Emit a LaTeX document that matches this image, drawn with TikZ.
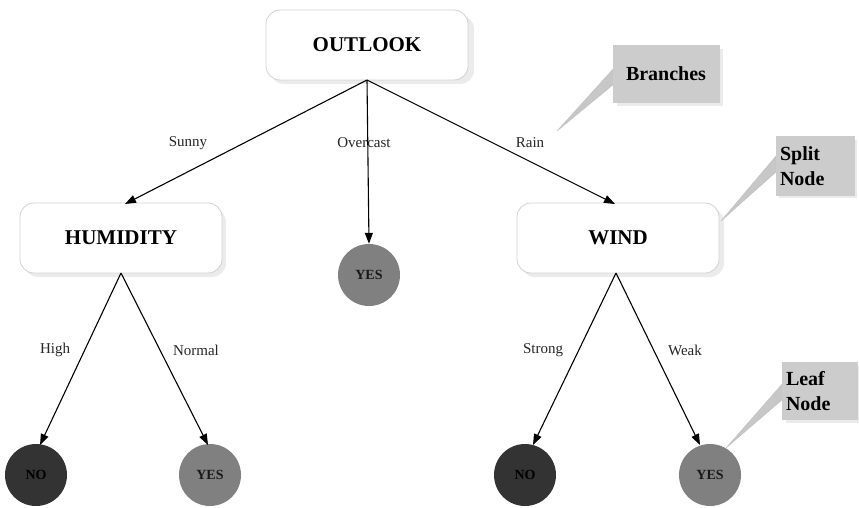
\documentclass[tikz,border=0pt]{standalone}
\usepackage{fontspec}
\setmainfont{Liberation Serif}
\usetikzlibrary{arrows.meta,calc}
\begin{document}
\begin{tikzpicture}[x=1pt,y=-1pt,
  attr/.style={draw=gray!35,line width=0.8pt,rounded corners=14pt,fill=white,minimum width=202pt,minimum height=70pt,font=\fontsize{21}{24}\selectfont\bfseries},
  leafyes/.style={circle,fill=black!50,minimum size=62pt,inner sep=0pt,font=\fontsize{14}{16}\selectfont\bfseries,text=black!90},
  leafno/.style={circle,fill=black!80,minimum size=62pt,inner sep=0pt,font=\fontsize{14}{16}\selectfont\bfseries,text=black},
  callout/.style={fill=black!20,inner sep=0pt,font=\fontsize{20}{25}\selectfont\bfseries,align=left},
  tail/.style={fill=black!22,draw=black!25,line width=0.4pt},
  edge/.style={-{Triangle[length=11pt,width=8pt]},line width=1.1pt,black},
  lbl/.style={font=\fontsize{15}{17}\selectfont,text=black!85}]
\useasboundingbox (0,0) rectangle (859,508);
% shadows
\fill[black!8,rounded corners=14pt] (270,15) rectangle (474,84);
\fill[black!8,rounded corners=14pt] (24,208) rectangle (226,277);
\fill[black!8,rounded corners=14pt] (521,208) rectangle (724,277);
\node[attr] (outlook) at (367,45) {OUTLOOK};
\node[attr] (hum) at (121,238) {HUMIDITY};
\node[attr] (wind) at (618,238) {WIND};
\node[leafyes] (yes1) at (369,275) {YES};
\node[leafno] (no1) at (36,475) {NO};
\node[leafyes] (yes2) at (210,475) {YES};
\node[leafno] (no2) at (525,475) {NO};
\node[leafyes] (yes3) at (710,475) {YES};
% edges
\coordinate (o) at (367,80);
\draw[edge] (o) -- (125,204);
\draw[edge] (o) -- (yes1.north);
\draw[edge] (o) -- (615,204);
\coordinate (h) at (121,273);
\draw[edge] (h) -- (40,445);
\draw[edge] (h) -- (208,445);
\coordinate (w) at (616,273);
\draw[edge] (w) -- (533,445);
\draw[edge] (w) -- (700,445);
% labels
\node[lbl] (l1) at (188,143) {Sunny};
\node[lbl] (l2) at (364,143) {Overcast};
\node[lbl] (l3) at (530,143) {Rain};
\node[lbl] (l4) at (55,350) {High};
\node[lbl] (l5) at (196,350) {Normal};
\node[lbl] (l6) at (543,350) {Strong};
\node[lbl] (l7) at (685,350) {Weak};
% callouts
\coordinate (t1) at (557,131);
\coordinate (t2) at (721,221);
\coordinate (t3) at (726,448);
\draw[tail] (t1) -- (614,68) -- (614,84) -- cycle;
\draw[tail] (t2) -- (776,156) -- (776,172) -- cycle;
\draw[tail] (t3) -- (783,383) -- (783,399) -- cycle;
\fill[black!8] (617,49) rectangle (723,106);
\fill[black!8] (779,140) rectangle (857,198);
\fill[black!8] (786,366) rectangle (859,423);
\node[callout,minimum width=107pt,minimum height=58pt,align=center] (b1) at (666,74) {Branches};
\node[callout,minimum width=79pt,minimum height=59pt,text width=70pt] (b2) at (815,166) {Split\\Node};
\node[callout,minimum width=76pt,minimum height=58pt,text width=68pt] (b3) at (820,391) {Leaf\\Node};
\end{tikzpicture}
\end{document}
